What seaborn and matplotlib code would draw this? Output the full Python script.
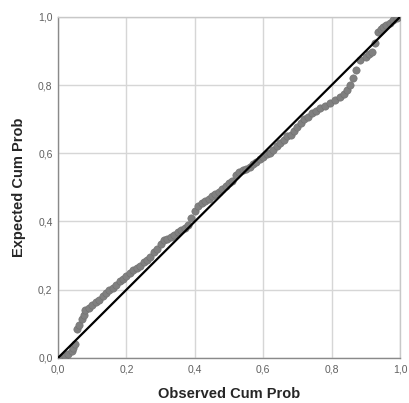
import numpy as np
import pandas as pd
import matplotlib
matplotlib.use("Agg")
import matplotlib.pyplot as plt
from matplotlib.ticker import FuncFormatter
import seaborn as sns

# observed vs expected cumulative probabilities
observed = [0.01, 0.02, 0.03, 0.04, 0.045, 0.05, 0.055, 0.06, 0.07, 0.075,
            0.08, 0.09, 0.10, 0.11, 0.12, 0.13, 0.14, 0.15, 0.16, 0.17,
            0.18, 0.19, 0.20, 0.21, 0.22, 0.23, 0.24, 0.25, 0.26, 0.27,
            0.28, 0.29, 0.30, 0.31, 0.32, 0.33, 0.34, 0.35, 0.36, 0.37,
            0.38, 0.39, 0.40, 0.41, 0.42, 0.43, 0.44, 0.45, 0.46, 0.47,
            0.48, 0.49, 0.50, 0.51, 0.52, 0.53, 0.54, 0.55, 0.56, 0.57,
            0.58, 0.59, 0.60, 0.61, 0.62, 0.63, 0.64, 0.65, 0.66, 0.67,
            0.68, 0.69, 0.70, 0.71, 0.72, 0.73, 0.743, 0.755, 0.766, 0.78,
            0.795, 0.81, 0.825, 0.835, 0.845, 0.855, 0.863, 0.872, 0.883, 0.9,
            0.91, 0.918, 0.927, 0.936, 0.943, 0.95, 0.96, 0.97, 0.98, 0.99]
expected = [0.0, 0.005, 0.01, 0.02, 0.03, 0.04, 0.085, 0.095, 0.115, 0.125,
            0.14, 0.145, 0.155, 0.165, 0.17, 0.18, 0.19, 0.20, 0.205, 0.215,
            0.225, 0.23, 0.24, 0.25, 0.258, 0.265, 0.27, 0.28, 0.287, 0.295,
            0.31, 0.32, 0.335, 0.346, 0.35, 0.355, 0.36, 0.37, 0.375, 0.38,
            0.39, 0.41, 0.43, 0.445, 0.455, 0.46, 0.465, 0.475, 0.48, 0.487,
            0.495, 0.505, 0.513, 0.52, 0.535, 0.545, 0.55, 0.555, 0.56, 0.57,
            0.575, 0.583, 0.59, 0.597, 0.60, 0.61, 0.62, 0.63, 0.64, 0.65,
            0.655, 0.665, 0.677, 0.69, 0.70, 0.707, 0.718, 0.725, 0.733, 0.74,
            0.748, 0.755, 0.765, 0.775, 0.786, 0.80, 0.821, 0.845, 0.874, 0.883,
            0.89, 0.897, 0.924, 0.956, 0.965, 0.97, 0.976, 0.982, 0.99, 0.997]
ref_line = [0.0, 1.0]
ticks = [0.0, 0.2, 0.4, 0.6, 0.8, 1.0]

df = pd.DataFrame({"obs": observed, "exp": expected})
line_df = pd.DataFrame({"x": ref_line, "y": ref_line})

sns.set_style("white")
plt.rcParams["font.family"] = ["Liberation Sans", "DejaVu Sans"]

fig = plt.figure(figsize=(4.09, 4.03), dpi=100)
ax = fig.add_axes([0.142, 0.112, 0.836, 0.846])

sns.scatterplot(data=df, x="obs", y="exp", ax=ax, color="#808080",
                s=28, edgecolor="#707070", linewidth=0.4, zorder=3)
sns.lineplot(data=line_df, x="x", y="y", ax=ax, color="black",
             linewidth=1.6, zorder=4)

ax.set_xlim(0, 1)
ax.set_ylim(0, 1)
ax.set_xticks(ticks)
ax.set_yticks(ticks)
fmt = FuncFormatter(lambda v, p: f"{v:.1f}".replace(".", ","))
ax.xaxis.set_major_formatter(fmt)
ax.yaxis.set_major_formatter(fmt)
ax.grid(True, color="#d6d6d6", linewidth=1.0)
ax.set_axisbelow(True)
ax.tick_params(axis="both", labelsize=7.5, colors="#606060", length=0)
ax.tick_params(axis="x", pad=5)
ax.tick_params(axis="y", pad=4)

for side in ["top", "right"]:
    ax.spines[side].set_color("#c8c8c8")
    ax.spines[side].set_linewidth(1.0)
for side in ["left", "bottom"]:
    ax.spines[side].set_color("#8a8a8a")
    ax.spines[side].set_linewidth(1.0)

ax.set_xlabel("Observed Cum Prob", fontsize=10.5, fontweight="bold", labelpad=9)
ax.set_ylabel("Expected Cum Prob", fontsize=10.5, fontweight="bold", labelpad=9)

fig.savefig("out.png", dpi=100, facecolor="white")
